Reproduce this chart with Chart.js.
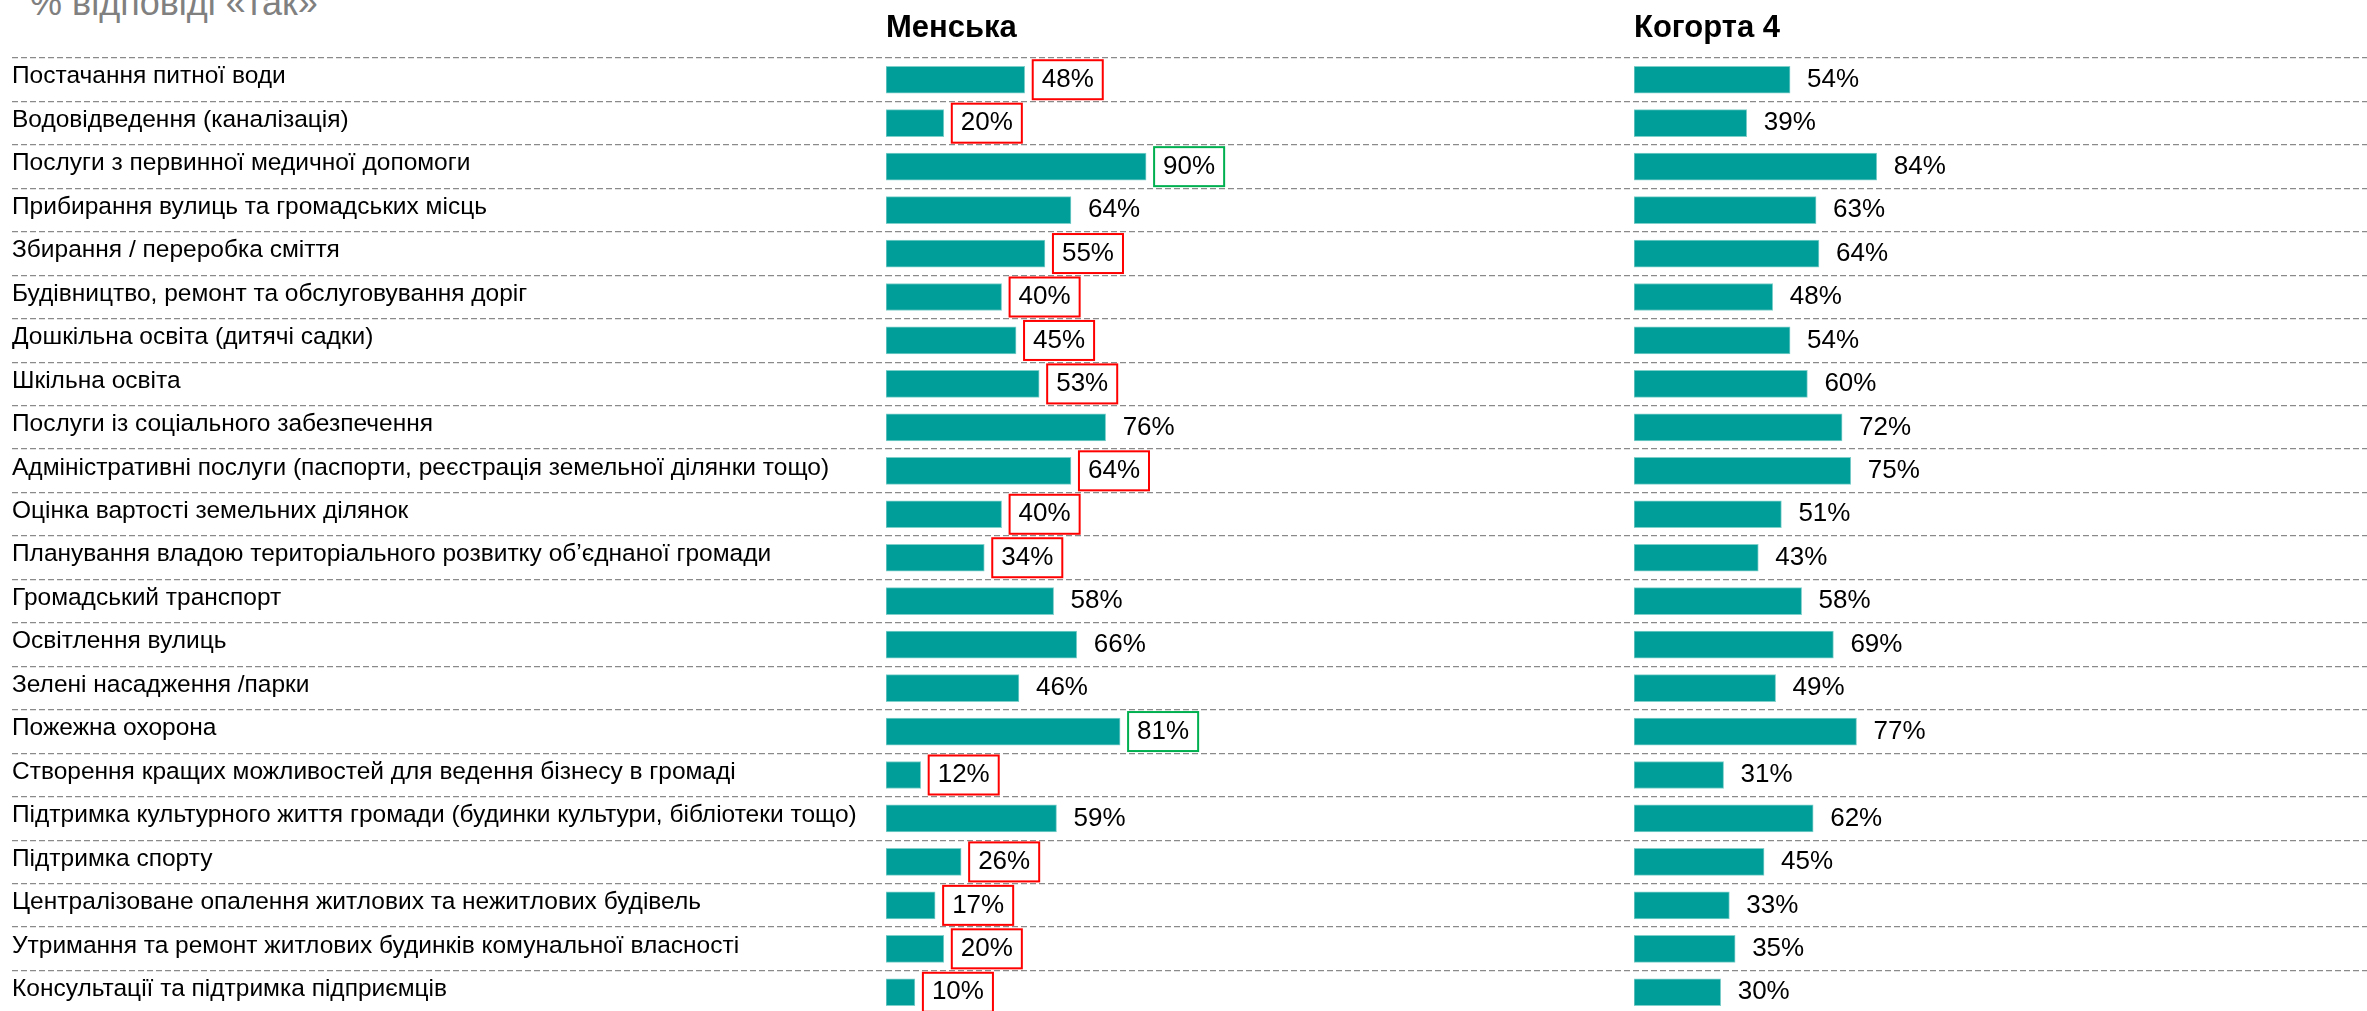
<!DOCTYPE html>
<html>
<head>
<meta charset="utf-8">
<script src="https://cdn.jsdelivr.net/npm/chart.js@4.4.0/dist/chart.umd.min.js"></script>
<style>
  body { margin: 0; background: #fff; overflow: hidden; }
  #wrap { position: relative; width: 2367px; height: 1011px; overflow: hidden; }
  #note { position: absolute; left: 30px; top: -15px; font: 36px Arial, 'Liberation Sans', sans-serif; color: #808080; line-height: 1; white-space: nowrap; }
  #c1 { position: absolute; left: 0; top: 0; }
  #c2 { position: absolute; left: 1634px; top: 0; }
</style>
</head>
<body>
<div id="wrap">
  <div id="note">% відповіді «так»</div>
  <canvas id="c1" width="2367" height="1030"></canvas>
  <canvas id="c2" width="733" height="1030"></canvas>
</div>
<script>
const categories = [
  'Постачання питної води',
  'Водовідведення (каналізація)',
  'Послуги з первинної медичної допомоги',
  'Прибирання вулиць та громадських місць',
  'Збирання / переробка сміття',
  'Будівництво, ремонт та обслуговування доріг',
  'Дошкільна освіта (дитячі садки)',
  'Шкільна освіта',
  'Послуги із соціального забезпечення',
  'Адміністративні послуги (паспорти, реєстрація земельної ділянки тощо)',
  'Оцінка вартості земельних ділянок',
  'Планування владою територіального розвитку об’єднаної громади',
  'Громадський транспорт',
  'Освітлення вулиць',
  'Зелені насадження /парки',
  'Пожежна охорона',
  'Створення кращих можливостей для ведення бізнесу в громаді',
  'Підтримка культурного життя громади (будинки культури, бібліотеки тощо)',
  'Підтримка спорту',
  'Централізоване опалення житлових та нежитлових будівель',
  'Утримання та ремонт житлових будинків комунальної власності',
  'Консультації та підтримка підприємців'
];
const menska = [48, 20, 90, 64, 55, 40, 45, 53, 76, 64, 40, 34, 58, 66, 46, 81, 12, 59, 26, 17, 20, 10];
const kohorta = [54, 39, 84, 63, 64, 48, 54, 60, 72, 75, 51, 43, 58, 69, 49, 77, 31, 62, 45, 33, 35, 30];
// -1 = significantly lower than cohort, 1 = higher, 0 = no difference
const menskaDiff = [-1, -1, 1, 0, -1, -1, -1, -1, 0, -1, -1, -1, 0, 0, 0, 1, -1, 0, -1, -1, -1, -1];
const kohortaDiff = kohorta.map(() => 0);

const FONT = "Arial, 'Liberation Sans', sans-serif";
const PX_PER_PCT = 2.89;
const TEAL = '#009e99';
const GRID = '#8a8a8a';

function makeChart(id, title, values, diff, showLabels, areaWidth) {
  // value labels with optional red/green frame
  const valueLabels = {
    id: 'valueLabels',
    afterDatasetsDraw(chart) {
      const ctx = chart.ctx;
      const meta = chart.getDatasetMeta(0);
      ctx.save();
      ctx.font = '26px ' + FONT;
      ctx.fillStyle = '#000';
      ctx.textBaseline = 'middle';
      ctx.textAlign = 'left';
      meta.data.forEach((bar, i) => {
        const txt = values[i] + '%';
        const x = bar.x + 17;
        const y = bar.y;
        ctx.fillText(txt, x, y);
        if (diff[i]) {
          const w = ctx.measureText(txt).width;
          ctx.strokeStyle = diff[i] < 0 ? '#ff0000' : '#00b050';
          ctx.lineWidth = 2;
          ctx.strokeRect(x - 9, y - 19.5, w + 18, 39);
        }
      });
      ctx.restore();
    }
  };

  return new Chart(document.getElementById(id), {
    type: 'bar',
    data: {
      labels: categories,
      datasets: [{
        data: values,
        backgroundColor: TEAL,
        borderColor: '#7fcfcb',
        borderWidth: 1,
        borderSkipped: false,
        barThickness: 27
      }]
    },
    options: {
      indexAxis: 'y',
      responsive: false,
      animation: false,
      devicePixelRatio: 1,
      layout: { padding: { left: showLabels ? 12 : 0, right: 0, top: 0, bottom: 0 } },
      plugins: {
        legend: { display: false },
        tooltip: { enabled: false },
        title: {
          display: true,
          text: title,
          align: 'start',
          fullSize: false,
          color: '#000',
          font: { family: FONT, size: 31, weight: 'bold', lineHeight: 1.2 },
          padding: { top: 10, bottom: 10.8 }
        }
      },
      scales: {
        x: {
          min: 0,
          max: areaWidth / PX_PER_PCT,
          ticks: { display: false },
          grid: { display: false },
          border: { display: false },
          afterFit(s) { s.height = 16; }
        },
        y: {
          ticks: {
            display: showLabels,
            color: '#000',
            crossAlign: 'far',
            padding: 0,
            labelOffset: -3,
            font: { family: FONT, size: 24.5 }
          },
          grid: {
            display: showLabels,
            color: GRID,
            lineWidth: 1.25,
            offset: true,
            drawTicks: true,
            tickLength: 874,
            tickColor: GRID,
            tickWidth: 1.25,
            tickBorderDash: [6, 3]
          },
          border: { display: false, dash: [6, 3] },
          afterFit(s) { s.width = showLabels ? 874 : 0; }
        }
      }
    },
    plugins: [valueLabels]
  });
}

try {
  makeChart('c1', 'Менська', menska, menskaDiff, true, 2367 - 886);
  makeChart('c2', 'Когорта 4', kohorta, kohortaDiff, false, 733);
} catch (e) {
  console.error('Error building charts:', e);
}
</script>
</body>
</html>
